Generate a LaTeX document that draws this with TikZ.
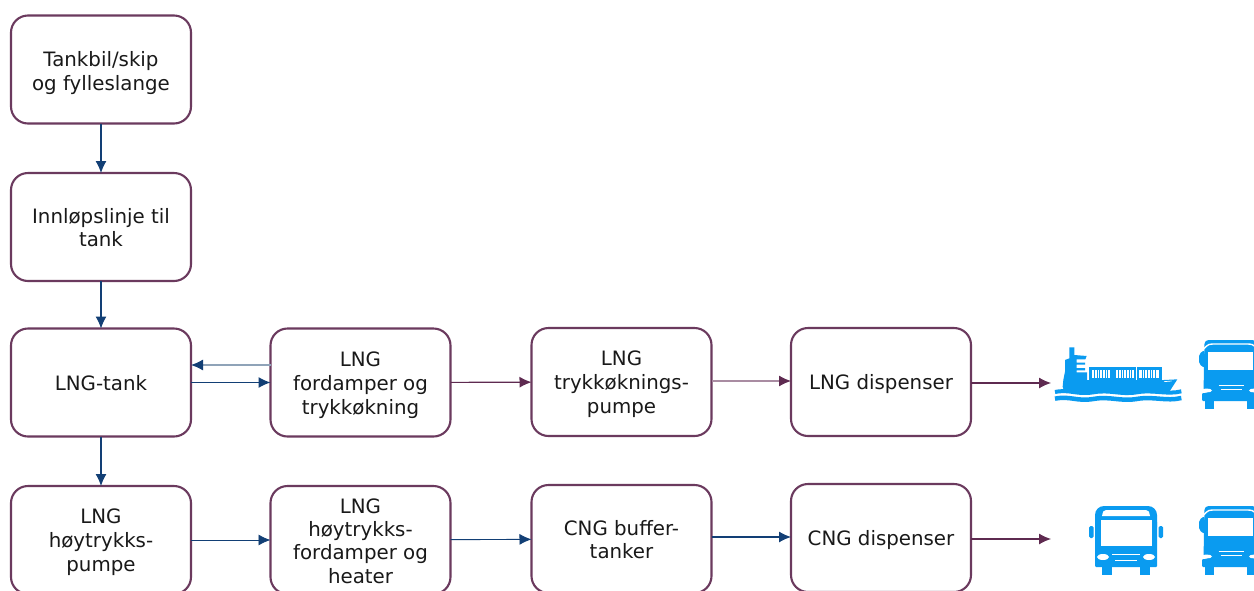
\documentclass[tikz,border=0pt]{standalone}
\usepackage{fontspec}
\setmainfont{DejaVu Sans}
\usetikzlibrary{arrows.meta,calc}
\definecolor{boxline}{HTML}{6B3A5E}
\definecolor{navy}{HTML}{123F75}
\definecolor{plum}{HTML}{5E2A50}
\definecolor{fadenavy}{HTML}{8FA3B8}
\definecolor{fadeplum}{HTML}{A98CA2}
\definecolor{icon}{HTML}{0A9BF0}
\newcommand\firstln[1]{\rule[-5.5pt]{0pt}{\dimexpr 21.5pt+2\dimexpr #1pt\relax\relax}}
\newcommand\lastln{\rule[-5.5pt]{0pt}{5.5pt}}
\tikzset{
  box/.style={draw=boxline,line width=2.1pt,rounded corners=17pt,fill=white,minimum width=180pt,minimum height=108pt,
    inner sep=0pt,outer sep=0pt,align=center,text=black!90,font=\fontsize{19.8pt}{24pt}\selectfont},
  tipb/.style={-{Latex[length=12pt,width=11pt]}},
  blueflow/.style={tipb,draw=navy,line width=1.1pt},
  plumflow/.style={tipb,draw=plum,line width=1.1pt},
  faintblue/.style={-{Latex[length=12pt,width=11pt,fill=navy,color=navy]},draw=fadenavy,line width=1.1pt},
  faintplum/.style={-{Latex[length=12pt,width=11pt,fill=plum,color=plum]},draw=fadeplum,line width=1.1pt},
  pics/busa/.style={code={
    \fill[icon,rounded corners=9pt] (-31,0) -- (31,0) -- (31,30) -- (-31,30) -- cycle;
    \fill[icon,rounded corners=1pt] (-31,15) rectangle (31,61);
    \fill[icon,rounded corners=1.5pt] (-37,20) rectangle (-32.5,32);
    \fill[icon,rounded corners=1.5pt] (32.5,20) rectangle (37,32);
    \fill[icon] (-24,61) rectangle (-14,69);
    \fill[icon] (14,61) rectangle (24,69);
    \fill[white] (-24,10) .. controls (-23,6) and (-23,4) .. (-20,4) -- (20,4) .. controls (23,4) and (23,6) .. (24,10) -- cycle;
    \fill[white] (-25.5,14) rectangle (25.5,40);
    \fill[white] (-23,51) ellipse (6pt and 3pt);
    \fill[white] (23,51) ellipse (6pt and 3pt);
    \draw[white,line width=.8pt] (-14,48) -- (14,48);
    \draw[white,line width=.8pt] (-11,54) -- (11,54);
  }},
  pics/busb/.style={code={
    \fill[icon,rounded corners=4pt] (-26,0) -- (26,0) -- (27,53) -- (-27,53) -- cycle;
    \fill[icon,rounded corners=1pt] (-28.5,53) rectangle (28.5,61);
    \fill[icon,rounded corners=2pt] (-31.5,14) -- (-26,10) -- (-26,28) -- (-31.5,24) -- cycle;
    \fill[icon,rounded corners=2pt] (31.5,14) -- (26,10) -- (26,28) -- (31.5,24) -- cycle;
    \fill[icon] (-25.5,61) rectangle (-16.5,69);
    \fill[icon] (16.5,61) rectangle (25.5,69);
    \draw[white,line width=1.4pt] (-27,9) .. controls (-22,4) .. (-15,4) -- (15,4) .. controls (22,4) .. (27,9);
    \fill[white] (-22.5,12) rectangle (22.5,30);
    \fill[white] (-24,50.5) ellipse (5.5pt and 2pt);
    \fill[white] (24,50.5) ellipse (5.5pt and 2pt);
    \draw[white,line width=.8pt] (-12,45) -- (13,45);
    \draw[white,line width=.8pt] (-10,49.5) -- (11,49.5);
  }},
  pics/shipicon/.style={code={
    \fill[icon] (72,184) -- (68,170) -- (70,150) -- (75,125) -- (75,90) -- (88,85) -- (88,52) -- (103,52) -- (103,75) -- (140,78) -- (136,88)
      -- (110,88) -- (110,98) -- (135,98) -- (135,104) -- (110,104) -- (110,114) -- (135,114) -- (135,121) -- (110,121) -- (110,127) -- (141,127) -- (141,150)
      -- (372,150) -- (412,148) -- (385,190) -- cycle;
    \fill[icon] (147,112) rectangle (218,151);
    \fill[icon] (220,112) rectangle (289,151);
    \fill[icon] (291,112) rectangle (365,151);
    \fill[white] (155,120) rectangle (211,144);
    \fill[white] (227,120) rectangle (282,144);
    \fill[white] (298,120) rectangle (357,144);
    \foreach \hx in {163,171,179,187,195,203,235,243,251,259,267,275,306,314,322,330,338,346}
      \draw[icon,line width=.6pt] (\hx,120) -- (\hx,144);
    \draw[white,line width=.7pt] (372,155) -- (395,153);
    \draw[icon,line width=4pt] (45,186) .. controls (90,177) and (110,195) .. (160,187) .. controls (210,178) and (240,195) .. (290,187) .. controls (340,178) and (380,195) .. (424,184);
    \draw[icon,line width=4.5pt] (45,206) .. controls (90,197) and (110,215) .. (160,207) .. controls (210,198) and (240,215) .. (290,207) .. controls (340,198) and (380,215) .. (424,204);
  }}
}
\begin{document}
\begin{tikzpicture}[x=1pt,y=-1pt]
\clip (0,0) rectangle (1254,590);
\fill[white] (0,0) rectangle (1254,590);
\node[box] (hose) at (101,69.5) {\firstln{3.75}Tankbil/skip\\og fylleslange\lastln};
\node[box] (inlet) at (101,227) {\firstln{2.75}Innløpslinje til\\[-1pt]tank\lastln};
\node[box] (tank) at (101,382.5) {\firstln{2.75}LNG-tank};
\node[box] (vap) at (360.5,382.5) {\firstln{3.05}LNG\\fordamper og\\trykkøkning\lastln};
\node[box] (ppump) at (621.5,382) {\firstln{2.55}LNG\\trykkøknings-\\pumpe\lastln};
\node[box] (ldisp) at (881,382) {\firstln{2.25}LNG dispenser};
\node[box] (hpump) at (101,540) {\firstln{2.55}LNG\\høytrykks-\\pumpe\lastln};
\node[box] (hvap) at (360.5,540) {\firstln{3.05}LNG\\[-.7pt]høytrykks-\\[-.7pt]fordamper og\\[-.7pt]heater\lastln};
\node[box] (buffer) at (621.5,539) {\firstln{2.75}CNG buffer-\\[-1pt]tanker\lastln};
\node[box] (cdisp) at (881,538) {\firstln{2.25}CNG dispenser};
\coordinate (lend) at (1051,383);
\coordinate (cend) at (1051,539);
\draw[blueflow] (hose) -- (inlet);
\draw[blueflow] (inlet) -- (tank);
\draw[blueflow] (tank) -- (hpump);
\draw[faintblue] ([yshift=17.5pt]vap.west) -- ([yshift=17.5pt]tank.east);
\draw[blueflow] (tank.east) -- (vap.west);
\draw[plumflow] (vap) -- (ppump);
\draw[faintplum] ([yshift=1pt]ppump.east) -- ([yshift=1pt]ldisp.west);
\draw[plumflow] ([yshift=-1pt]ldisp.east) -- (lend);
\draw[blueflow,line width=.9pt] (hpump) -- (hvap);
\draw[blueflow,line width=.9pt] (hvap) -- (buffer);
\draw[blueflow] ([yshift=2pt]buffer.east) -- ([yshift=1pt]cdisp.west);
\draw[plumflow] ([yshift=-1pt]cdisp.east) -- (cend);
\pic[xscale=0.3333,yscale=0.3333] at (1040,330) {shipicon};
\pic at (1230.5,340) {busb};
\pic at (1126,506) {busa};
\pic at (1230.5,506) {busb};
\end{tikzpicture}
\end{document}
